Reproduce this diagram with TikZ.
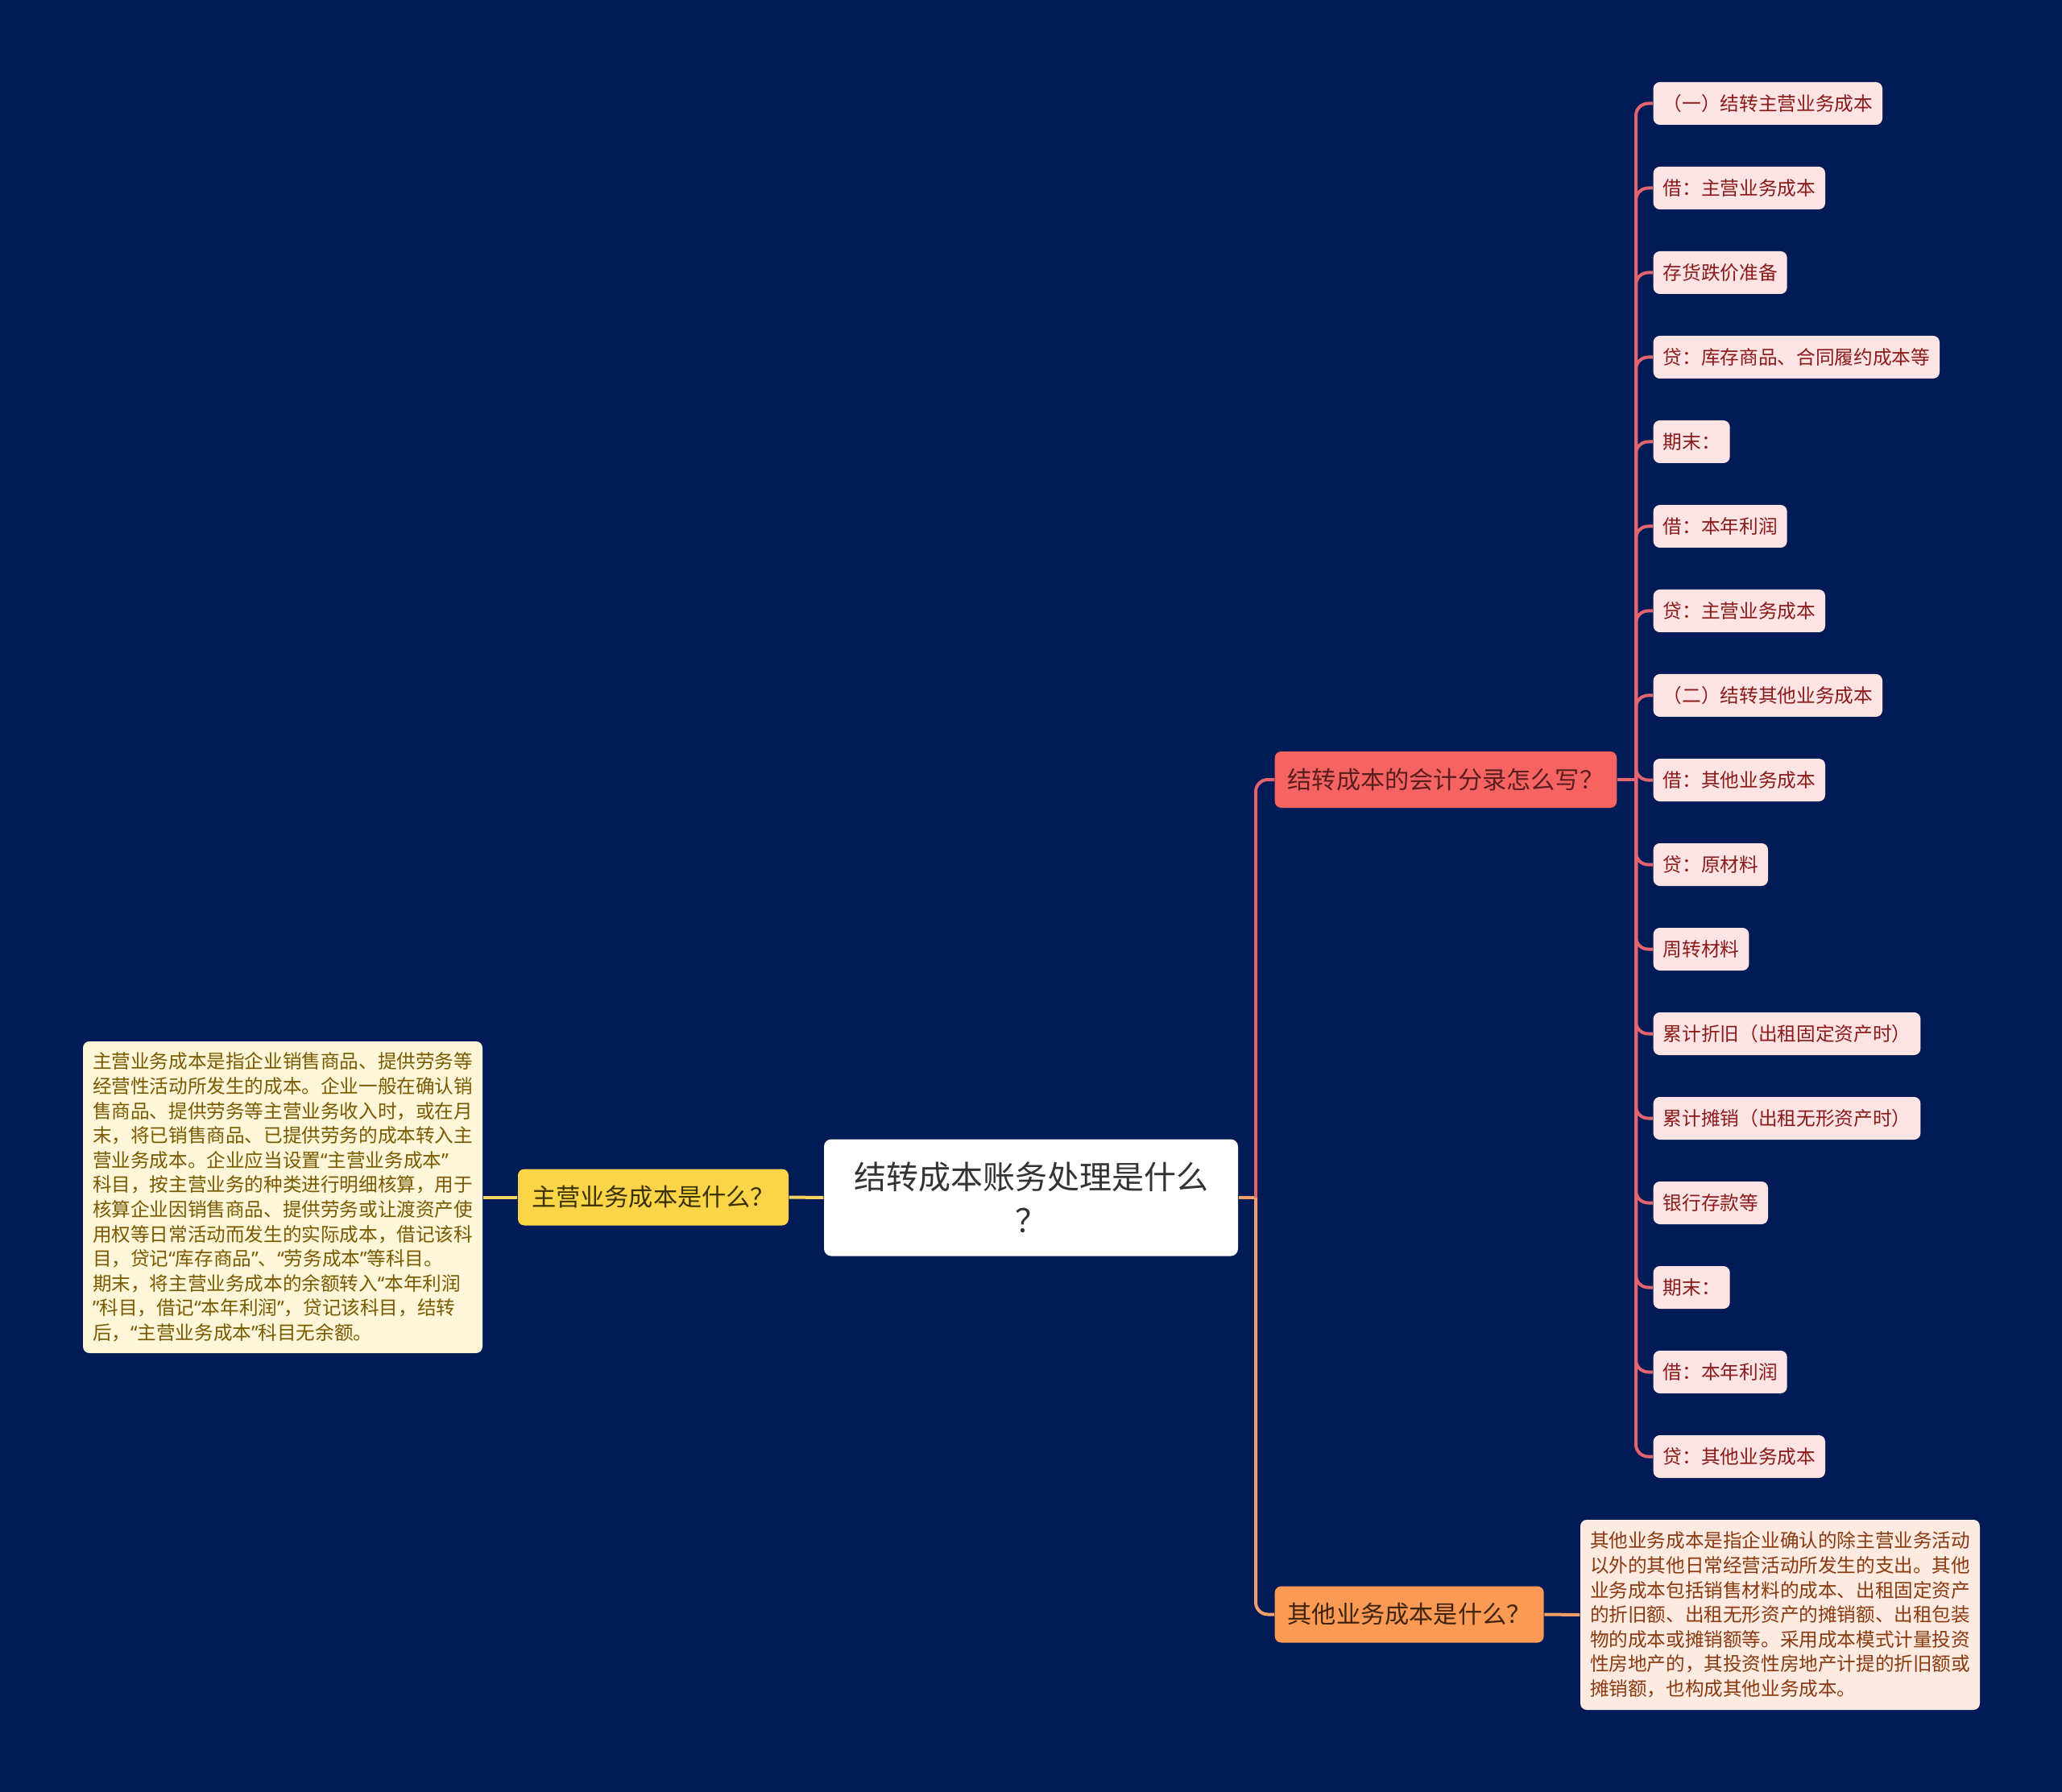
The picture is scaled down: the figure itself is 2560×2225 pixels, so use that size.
\documentclass[tikz,border=0pt]{standalone}
\usepackage{fontspec}
\setmainfont{Noto Sans CJK SC}
\newfontfamily\qtfont{Noto Sans}
\newcommand\qopen{{\qtfont “}}
\newcommand\qclose{{\qtfont ”}}
\definecolor{bg}{HTML}{021A55}
\definecolor{redn}{HTML}{F56362}
\definecolor{redtext}{HTML}{5A1E1E}
\definecolor{redline}{HTML}{E5656E}
\definecolor{orn}{HTML}{FA9A55}
\definecolor{ortext}{HTML}{3F2410}
\definecolor{orline}{HTML}{F2A06A}
\definecolor{yeln}{HTML}{FAD548}
\definecolor{yeltext}{HTML}{3A3000}
\definecolor{yelline}{HTML}{F5D560}
\definecolor{leaffill}{HTML}{FDE4E4}
\definecolor{leaftext}{HTML}{8B1A1A}
\definecolor{ybox}{HTML}{FDF6D8}
\definecolor{yboxtext}{HTML}{7A5A00}
\definecolor{obox}{HTML}{FDEAE0}
\definecolor{oboxtext}{HTML}{8A3A10}
\definecolor{roottext}{HTML}{333333}
\begin{document}
\begin{tikzpicture}[x=0.3pt,y=-0.3pt,
  leafbox/.style={rectangle, rounded corners=2.4pt, fill=leaffill, text=leaftext,
    font=\fontsize{7.1pt}{8.5pt}\selectfont, minimum height=15.9pt,
    inner xsep=3.6pt, inner ysep=0pt, anchor=west},
  mainbox/.style={rectangle, rounded corners=2.4pt, font=\fontsize{9.06pt}{11pt}\selectfont,
    minimum height=21pt, inner xsep=4.8pt, inner ysep=0pt},
  rootbox/.style={rectangle, rounded corners=2.7pt, fill=white, text=roottext,
    font=\fontsize{12pt}{16.2pt}\selectfont, align=center,
    minimum width=154.2pt, minimum height=43.5pt, inner sep=0pt},
  descbox/.style={rectangle, rounded corners=2.4pt, align=left,
    font=\fontsize{7.08pt}{9.18pt}\selectfont, inner sep=0pt,
    minimum width=148.8pt},
  conn/.style={line width=1.2pt},
  curvy/.style={rounded corners=4.5pt}
]
\fill[bg] (0,0) rectangle (2560,2225);
\useasboundingbox (0,0) rectangle (2560,2225);

% root
\node[rootbox] (root) at (1280,1487) {结转成本账务处理是什么\\？};

% main branches
\node[mainbox, fill=redn, text=redtext, anchor=west] (n1) at (1582,968) {结转成本的会计分录怎么写？};
\node[mainbox, fill=orn, text=ortext, anchor=west] (n2) at (1582,2004.5) {其他业务成本是什么？};
\node[mainbox, fill=yeln, text=yeltext, minimum width=100.8pt] (n3) at (811,1486.5) {主营业务成本是什么？};

% descriptions
\node[descbox, fill=ybox, text=yboxtext, minimum height=116.1pt] (d1) at (351,1486.5) {%
主营业务成本是指企业销售商品、提供劳务等\\
经营性活动所发生的成本。企业一般在确认销\\
售商品、提供劳务等主营业务收入时，或在月\\
末，将已销售商品、已提供劳务的成本转入主\\
营业务成本。企业应当设置\qopen 主营业务成本\qclose\\
科目，按主营业务的种类进行明细核算，用于\\
核算企业因销售商品、提供劳务或让渡资产使\\
用权等日常活动而发生的实际成本，借记该科\\
目，贷记\qopen 库存商品\qclose 、\qopen 劳务成本\qclose 等科目。\\
期末，将主营业务成本的余额转入\qopen 本年利润\\
\qclose 科目，借记\qopen 本年利润\qclose ，贷记该科目，结转\\
后，\qopen 主营业务成本\qclose 科目无余额。};
\node[descbox, fill=obox, text=oboxtext, minimum height=70.8pt] (d2) at (2210,2005) {%
其他业务成本是指企业确认的除主营业务活动\\
以外的其他日常经营活动所发生的支出。其他\\
业务成本包括销售材料的成本、出租固定资产\\
的折旧额、出租无形资产的摊销额、出租包装\\
物的成本或摊销额等。采用成本模式计量投资\\
性房地产的，其投资性房地产计提的折旧额或\\
摊销额，也构成其他业务成本。};

% leaves
\foreach \t [count=\i from 0] in {（一）结转主营业务成本,借：主营业务成本,存货跌价准备,贷：库存商品、合同履约成本等,期末：,借：本年利润,贷：主营业务成本,（二）结转其他业务成本,借：其他业务成本,贷：原材料,周转材料,累计折旧（出租固定资产时）,累计摊销（出租无形资产时）,银行存款等,期末：,借：本年利润,贷：其他业务成本}
  \node[leafbox] (L\i) at (2052,{128.5+105*\i}) {\t};

% connectors
\coordinate (j0) at (1559,1487);
\coordinate (j1) at (2031,968);
\draw[conn, yelline] (root.west) -- (n3.east);
\draw[conn, yelline] (n3.west) -- (d1.east);
\draw[conn, orline] (root.east) -- (j0);
\draw[conn, redline, curvy] (j0) |- (n1.west);
\draw[conn, orline, curvy] (j0) |- (n2.west);
\draw[conn, orline] (n2.east) -- (d2.west);
\draw[conn, redline] (n1.east) -- (j1);
\foreach \i in {0,...,16}
  \draw[conn, redline, curvy] (j1) |- (L\i.west);
\end{tikzpicture}
\end{document}
